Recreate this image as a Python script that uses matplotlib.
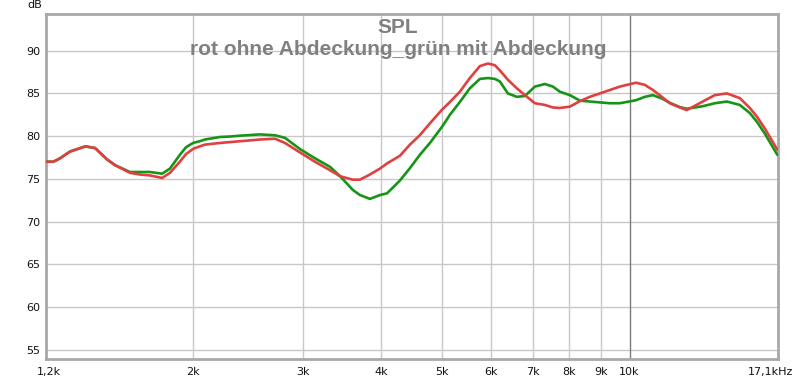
import numpy as np
import matplotlib
matplotlib.use("Agg")
import matplotlib.pyplot as plt
from matplotlib.transforms import ScaledTranslation

# ---- data ----
freq_hz = [1165, 1195, 1225, 1271, 1345, 1394, 1455, 1500, 1585, 1645, 1705,
           1785, 1837, 1905, 1949, 2000, 2050, 2090, 2210, 2290, 2378, 2560,
           2705, 2807, 2965, 3136, 3315, 3440, 3605, 3701, 3840, 3985, 4090,
           4289, 4450, 4615, 4791, 5010, 5158, 5350, 5550, 5760, 5935, 6087,
           6200, 6386, 6600, 6800, 7055, 7320, 7539, 7735, 8026, 8330, 8641,
           8965, 9302, 9650, 10240, 10582, 10900, 11268, 11600, 12040, 12350,
           13100, 13697, 14320, 15020, 15583, 15990, 16468, 17250]
red_db = [77.0, 77.0, 77.4, 78.2, 78.8, 78.6, 77.3, 76.6, 75.7, 75.5, 75.4,
          75.1, 75.7, 77.0, 77.9, 78.5, 78.8, 79.0, 79.2, 79.3, 79.4, 79.6,
          79.7, 79.2, 78.1, 77.0, 76.0, 75.3, 74.9, 74.9, 75.5, 76.2, 76.8,
          77.7, 79.0, 80.1, 81.5, 83.1, 84.0, 85.2, 86.8, 88.2, 88.5, 88.3,
          87.7, 86.6, 85.6, 84.8, 83.85, 83.65, 83.35, 83.3, 83.45, 84.1, 84.6,
          85.0, 85.4, 85.8, 86.25, 86.0, 85.4, 84.6, 83.85, 83.35, 83.05,
          84.05, 84.8, 85.0, 84.45, 83.3, 82.3, 80.9, 78.4]
green_db = [77.0, 77.0, 77.4, 78.2, 78.8, 78.6, 77.3, 76.6, 75.8, 75.8, 75.8,
            75.6, 76.2, 77.8, 78.7, 79.2, 79.4, 79.6, 79.9, 79.95, 80.05, 80.2,
            80.1, 79.8, 78.5, 77.4, 76.4, 75.3, 73.7, 73.1, 72.65, 73.1, 73.3,
            74.8, 76.25, 77.8, 79.2, 81.1, 82.5, 84.0, 85.6, 86.7, 86.8, 86.7,
            86.4, 85.0, 84.6, 84.7, 85.8, 86.1, 85.8, 85.2, 84.8, 84.15, 84.05,
            83.95, 83.85, 83.85, 84.2, 84.6, 84.8, 84.4, 83.9, 83.4, 83.2,
            83.5, 83.85, 84.05, 83.65, 82.7, 81.7, 80.3, 77.8]

y_ticks = [55, 60, 65, 70, 75, 80, 85, 90]
x_ticks = [1165, 2000, 3000, 4000, 5000, 6000, 7000, 8000, 9000, 10000, 17100]
x_tick_labels = ["1,2k", "2k", "3k", "4k", "5k", "6k", "7k", "8k", "9k", "10k", "17,1kHz"]
title_1 = "SPL"
title_2 = "rot ohne Abdeckung_grün mit Abdeckung"

# ---- figure ----
fig = plt.figure(figsize=(8, 3.8), dpi=100)
ax = fig.add_axes([46/800, 1-359/380, (778-46)/800, (359-14)/380])
ax.set_xscale("log")
ax.set_xlim(1163, 17290)
ax.set_ylim(53.9, 94.3)

# grid
for yt in y_ticks:
    ax.axhline(yt, color="#c8c8c8", lw=1, zorder=1)
for xt in x_ticks[1:-1]:
    ax.axvline(xt, color="#7a7a7a" if xt == 10000 else "#c8c8c8", lw=1, zorder=1)

ax.plot(freq_hz, green_db, color="#169416", lw=1.9, zorder=3,
        solid_capstyle="round", solid_joinstyle="round", antialiased=True)
ax.plot(freq_hz, red_db, color="#e04040", lw=1.9, zorder=4,
        solid_capstyle="round", solid_joinstyle="round", antialiased=True)

ax.set_yticks(y_ticks)
ax.set_yticklabels([str(v) for v in y_ticks], fontsize=8, family="DejaVu Sans")
ax.set_xticks(x_ticks)
ax.set_xticklabels(x_tick_labels, fontsize=8, family="DejaVu Sans")
ax.xaxis.set_minor_locator(matplotlib.ticker.NullLocator())
ax.tick_params(axis="both", length=0, colors="#111111")
ax.tick_params(axis="x", pad=6)
ax.tick_params(axis="y", pad=4)
lbls = ax.get_xticklabels()
lbls[0].set_transform(lbls[0].get_transform() + ScaledTranslation(2/100, 0, fig.dpi_scale_trans))
lbls[-1].set_transform(lbls[-1].get_transform() + ScaledTranslation(-4/100, 0, fig.dpi_scale_trans))

for s in ax.spines.values():
    s.set_color("#a8a8a8")
    s.set_linewidth(2)

fig.text(42/800, 1-5/380, "dB", ha="right", va="center", fontsize=8, family="DejaVu Sans", color="#111111")

fig.text(398/800, 1-33/380, title_1, ha="center", va="baseline", fontsize=15,
         fontweight="bold", family="Liberation Sans", color="#808080")
fig.text(398/800, 1-55/380, title_2, ha="center", va="baseline", fontsize=15,
         fontweight="bold", family="Liberation Sans", color="#808080")

fig.savefig("out.png", dpi=100)
